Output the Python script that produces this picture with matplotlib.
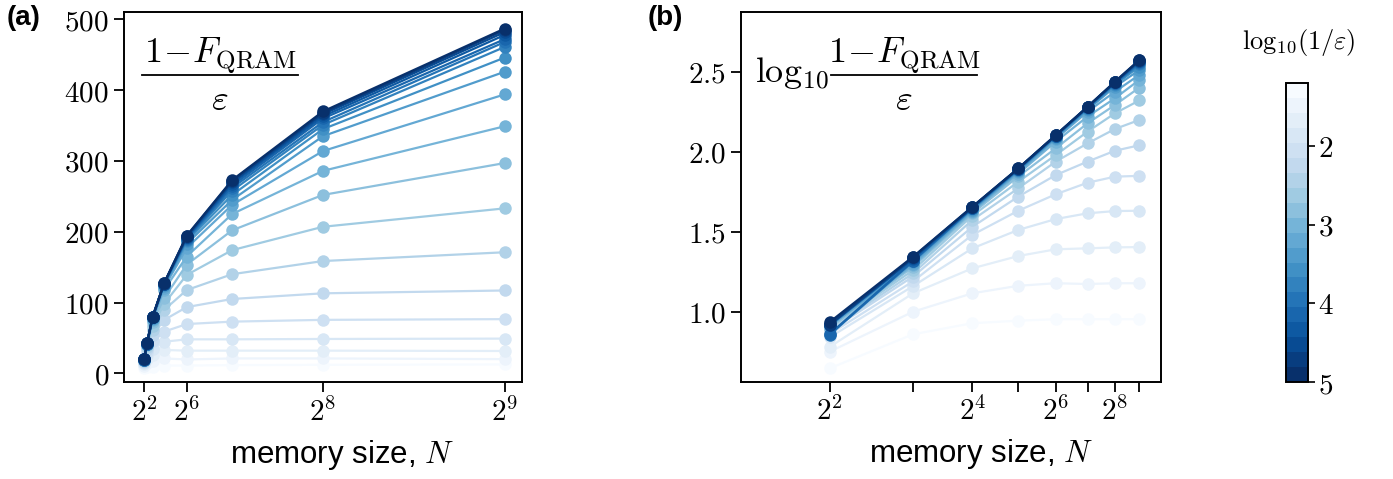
import numpy as np
import matplotlib
matplotlib.use("Agg")
import matplotlib.pyplot as plt
from matplotlib.colors import ListedColormap, Normalize
from matplotlib.cm import ScalarMappable
from matplotlib.lines import Line2D
from matplotlib.ticker import FixedLocator, NullLocator

plt.rcParams["mathtext.fontset"] = "cm"
plt.rcParams["font.family"] = ["Liberation Sans", "DejaVu Sans"]

# ── Data ──────────────────────────────────────────────────────────────
# log10(1/eps) of each curve, light -> dark
log_inv_eps = [1.2, 1.4, 1.6, 1.8, 2.0, 2.2, 2.4, 2.6, 2.8, 3.0,
               3.2, 3.4, 3.6, 3.8, 4.0, 4.2, 4.4, 4.6, 4.8, 5.0]

# panel (a): (1 - F_QRAM) / eps, one list per memory size (curves light -> dark)
N_left = [4, 8, 16, 32, 64, 128, 256, 512]
a_N4 = [7.0, 10.0, 13.0, 15.0, 16.5, 17.5, 18.0, 18.5, 18.8, 19.0,
        19.2, 19.4, 19.5, 19.6, 19.3, 19.4, 19.6, 19.7, 19.8, 19.8]
a_N8 = [8.5, 14.0, 20.0, 26.0, 30.5, 34.0, 37.0, 39.5, 40.5, 41.0,
        41.5, 41.8, 42.0, 42.1, 41.8, 41.9, 42.2, 42.3, 42.4, 42.4]
a_N16 = [9.5, 18.0, 26.0, 35.0, 45.0, 54.0, 61.0, 66.5, 72.5, 75.5,
         77.0, 78.0, 78.5, 79.0, 79.3, 79.5, 79.7, 79.8, 80.0, 80.0]
a_N32 = [11.0, 21.0, 33.0, 44.6, 58.8, 75.3, 89.4, 98.0, 106.0, 117.6,
         121.0, 123.0, 124.5, 125.5, 126.0, 126.3, 126.6, 126.8, 127.0, 127.0]
a_N64 = [11.0, 19.5, 32.0, 48.0, 69.6, 93.5, 117.6, 139.0, 153.5, 165.0,
         177.0, 183.0, 186.5, 188.5, 190.0, 191.0, 192.0, 193.0, 194.0, 194.5]
a_N128 = [11.5, 21.0, 32.0, 48.0, 73.0, 105.0, 140.0, 174.0, 202.0, 225.0,
          238.0, 245.0, 252.0, 258.0, 262.0, 265.0, 268.0, 270.0, 272.0, 273.0]
a_N256 = [12.0, 21.0, 32.0, 48.5, 75.5, 113.0, 158.6, 207.0, 252.0, 286.0,
          314.0, 335.0, 345.0, 351.0, 355.0, 360.0, 363.0, 366.0, 368.0, 370.0]
a_N512 = [12.5, 20.0, 31.5, 49.0, 76.5, 117.0, 171.0, 233.0, 297.0, 349.0,
          394.0, 426.0, 446.0, 461.0, 468.0, 472.0, 478.0, 482.0, 485.0, 487.0]

# panel (b): log10 of (1 - F_QRAM) / eps, one list per tick position
n_right = [2, 3, 4, 5, 6, 7, 8, 9]
right_labels = ["$2^{2}$", "", "$2^{4}$", "", "$2^{6}$", "", "$2^{8}$", ""]
b_n2 = [0.646, 0.750, 0.780, 0.840, 0.860, 0.880, 0.890, 0.900, 0.900, 0.910,
        0.910, 0.915, 0.920, 0.920, 0.855, 0.860, 0.915, 0.925, 0.920, 0.935]
b_n3 = [0.859, 1.000, 1.115, 1.160, 1.190, 1.220, 1.240, 1.260, 1.280, 1.290,
        1.300, 1.310, 1.320, 1.325, 1.315, 1.320, 1.330, 1.335, 1.340, 1.344]
b_n4 = [0.928, 1.115, 1.271, 1.396, 1.480, 1.530, 1.573, 1.600, 1.615, 1.625,
        1.632, 1.638, 1.642, 1.645, 1.647, 1.649, 1.651, 1.653, 1.655, 1.656]
b_n5 = [0.944, 1.162, 1.348, 1.511, 1.631, 1.719, 1.771, 1.812, 1.845, 1.862,
        1.872, 1.879, 1.884, 1.887, 1.889, 1.891, 1.893, 1.894, 1.895, 1.896]
b_n6 = [0.953, 1.178, 1.390, 1.579, 1.734, 1.854, 1.938, 1.979, 2.021, 2.063,
        2.080, 2.088, 2.093, 2.096, 2.098, 2.100, 2.101, 2.102, 2.103, 2.104]
b_n7 = [0.953, 1.173, 1.396, 1.615, 1.806, 1.938, 2.052, 2.125, 2.177, 2.219,
        2.250, 2.262, 2.268, 2.272, 2.275, 2.277, 2.278, 2.279, 2.280, 2.281]
b_n8 = [0.953, 1.178, 1.402, 1.629, 1.844, 2.006, 2.142, 2.240, 2.292, 2.334,
        2.375, 2.406, 2.418, 2.424, 2.428, 2.431, 2.433, 2.435, 2.436, 2.438]
b_n9 = [0.953, 1.178, 1.404, 1.631, 1.849, 2.040, 2.198, 2.320, 2.400, 2.448,
        2.480, 2.510, 2.532, 2.545, 2.553, 2.559, 2.564, 2.568, 2.571, 2.573]

left_table = np.array([a_N4, a_N8, a_N16, a_N32, a_N64, a_N128, a_N256, a_N512]).T
right_table = np.array([b_n2, b_n3, b_n4, b_n5, b_n6, b_n7, b_n8, b_n9]).T

# ── Style ─────────────────────────────────────────────────────────────
cmap = ListedColormap(plt.cm.Blues(np.linspace(0, 1, len(log_inv_eps))))
norm = Normalize(min(log_inv_eps), max(log_inv_eps))

W, H = 1393, 479
TICK_FS = 21
LABEL_FS = 22.5
FRAC_FS = 26


def style_axes(ax):
    for sp in ax.spines.values():
        sp.set_linewidth(1.4)
    ax.tick_params(direction="out", length=7, width=1.3, labelsize=TICK_FS, pad=4)


def px(x, y):
    """pixel position (from top-left) -> figure fraction"""
    return x / W, 1 - y / H


def fraction(fig, xc, x0, x1, y_bar):
    """1-F_QRAM over eps, drawn as numerator / bar / denominator"""
    fig.text(*px(xc, y_bar - 12), r"$1\!-\!F_{\mathrm{QRAM}}$", fontsize=FRAC_FS,
             ha="center", va="baseline")
    fig.add_artist(Line2D([x0 / W, x1 / W], [1 - y_bar / H] * 2,
                          transform=fig.transFigure, color="black", lw=1.3))
    fig.text(*px(xc, y_bar + 25), r"$\varepsilon$", fontsize=FRAC_FS,
             ha="center", va="center")


fig = plt.figure(figsize=(W / 100, H / 100), dpi=100)
ax1 = fig.add_axes([0.0892, 0.2019, 0.2853, 0.7724])
ax2 = fig.add_axes([0.5319, 0.2031, 0.3015, 0.7712])
cax = fig.add_axes([0.9232, 0.2025, 0.0158, 0.6236])

for i, le in enumerate(log_inv_eps):
    c = cmap(norm(le))
    ax1.plot(N_left, left_table[i], "-o", color=c, ms=9, lw=1.6, mew=0)
    ax2.plot(n_right, right_table[i], "-o", color=c, ms=9, lw=1.6, mew=0)

# panel (a)
ax1.set_xlim(-24, 536)
ax1.set_ylim(-12.7, 510)
ax1.set_xticks([4, 64, 256, 512])
ax1.set_xticklabels(["$2^{2}$", "$2^{6}$", "$2^{8}$", "$2^{9}$"])
ax1.set_yticks([0, 100, 200, 300, 400, 500])
ax1.set_yticklabels([f"${v}$" for v in [0, 100, 200, 300, 400, 500]])
style_axes(ax1)
ax1.set_xlabel(r"memory size, $N$", fontsize=LABEL_FS)
ax1.xaxis.set_label_coords(0.548, -0.15, transform=ax1.transAxes)
ax1.xaxis.label.set_va("top")
fraction(fig, 220, 142, 298, 75)

# panel (b)
ax2.set_xscale("log")
ax2.set_xlim(1.3, 10.0)
ax2.xaxis.set_major_locator(FixedLocator(n_right))
ax2.xaxis.set_minor_locator(NullLocator())
ax2.set_xticklabels(right_labels)
ax2.set_ylim(0.5625, 2.871)
ax2.set_yticks([1.0, 1.5, 2.0, 2.5])
ax2.set_yticklabels([f"${v:.1f}$" for v in [1.0, 1.5, 2.0, 2.5]])
style_axes(ax2)
ax2.set_xlabel(r"memory size, $N$", fontsize=LABEL_FS)
ax2.xaxis.set_label_coords(0.571, -0.15, transform=ax2.transAxes)
ax2.xaxis.label.set_va("top")
fig.text(*px(829, 82), r"$\mathrm{log}_{10}$", fontsize=FRAC_FS, ha="right", va="baseline")
fraction(fig, 904, 831, 977, 75)

# colorbar
sm = ScalarMappable(norm=norm, cmap=cmap)
cb = fig.colorbar(sm, cax=cax)
cb.set_ticks([2, 3, 4, 5])
cb.set_ticklabels(["$2$", "$3$", "$4$", "$5$"])
cax.invert_yaxis()
cb.outline.set_linewidth(1.4)
cax.tick_params(direction="out", length=5, width=1.2, labelsize=TICK_FS, pad=2)
fig.text(*px(1299, 42), r"$\mathrm{log}_{10}(1/\varepsilon)$", fontsize=19,
         ha="center", va="center")

# panel labels
fig.text(*px(7, 18), "(a)", fontsize=20, fontweight="bold", va="center")
fig.text(*px(648, 18), "(b)", fontsize=20, fontweight="bold", va="center")

fig.savefig("out.png", dpi=100)
